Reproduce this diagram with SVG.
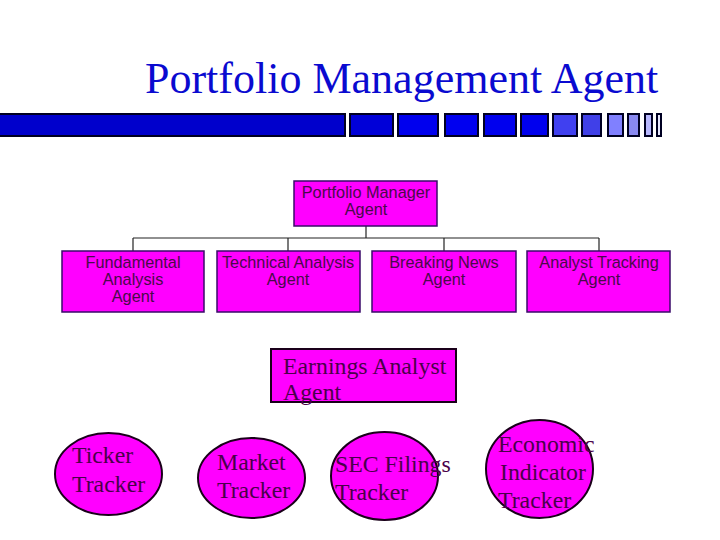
<svg xmlns="http://www.w3.org/2000/svg" width="720" height="540" viewBox="0 0 720 540">
<style>
.title{font-family:"Liberation Serif","Times New Roman",serif;font-size:44px;fill:#0a0ad0}
.bar{stroke:#000022;stroke-width:2}
.box{fill:#ff00ff;stroke:#3a0a6a;stroke-width:1.5}
.btxt{font-family:"Liberation Sans",Arial,sans-serif;font-size:16.3px;fill:#4a0a4a;text-anchor:middle}
.conn{stroke:#222;stroke-width:1.2;fill:none}
.node{fill:#ff00ff;stroke:#1a001a;stroke-width:2}
.ntxt{font-family:"Liberation Serif","Times New Roman",serif;font-size:23.8px;fill:#4a004a}
</style>
<rect width="720" height="540" fill="#fff"/>
<text class="title" x="145" y="93">Portfolio Management Agent</text>
<g id="bar">
<rect class="bar" x="-2" y="114" width="347" height="22" fill="#0000cc"/>
<rect class="bar" x="350" y="114" width="43" height="22" fill="#0000d8"/>
<rect class="bar" x="398" y="114" width="40" height="22" fill="#0000ee"/>
<rect class="bar" x="445" y="114" width="33" height="22" fill="#0000f0"/>
<rect class="bar" x="484" y="114" width="32" height="22" fill="#0000ee"/>
<rect class="bar" x="521" y="114" width="27" height="22" fill="#0000ee"/>
<rect class="bar" x="553" y="114" width="24" height="22" fill="#4040f0"/>
<rect class="bar" x="582" y="114" width="19" height="22" fill="#4040e8"/>
<rect class="bar" x="608" y="114" width="15" height="22" fill="#8080ff"/>
<rect class="bar" x="628" y="114" width="11" height="22" fill="#8888f0"/>
<rect class="bar" x="645" y="114" width="7" height="22" fill="#b8b8ff"/>
<rect class="bar" x="657" y="114" width="4" height="22" fill="#e8e8ff"/>
</g>
<g id="connectors">
<line class="conn" x1="366" y1="226" x2="366" y2="238"/>
<line class="conn" x1="133" y1="238" x2="599" y2="238"/>
<line class="conn" x1="133" y1="238" x2="133" y2="251"/>
<line class="conn" x1="288" y1="238" x2="288" y2="251"/>
<line class="conn" x1="444" y1="238" x2="444" y2="251"/>
<line class="conn" x1="599" y1="238" x2="599" y2="251"/>
</g>
<g id="portfolio-manager">
<rect class="box" x="294" y="181" width="143" height="45"/>
<text class="btxt" x="366" y="198">Portfolio Manager</text>
<text class="btxt" x="366" y="215">Agent</text>
</g>
<g id="fundamental">
<rect class="box" x="62" y="251" width="142" height="61"/>
<text class="btxt" x="133" y="268">Fundamental</text>
<text class="btxt" x="133" y="285">Analysis</text>
<text class="btxt" x="133" y="302">Agent</text>
</g>
<g id="technical">
<rect class="box" x="217" y="251" width="143" height="61"/>
<text class="btxt" x="288" y="268">Technical Analysis</text>
<text class="btxt" x="288" y="285">Agent</text>
</g>
<g id="breaking-news">
<rect class="box" x="372" y="251" width="144" height="61"/>
<text class="btxt" x="444" y="268">Breaking News</text>
<text class="btxt" x="444" y="285">Agent</text>
</g>
<g id="analyst-tracking">
<rect class="box" x="527" y="251" width="143" height="61"/>
<text class="btxt" x="599" y="268">Analyst Tracking</text>
<text class="btxt" x="599" y="285">Agent</text>
</g>
<g id="earnings">
<rect class="node" x="271" y="349" width="185" height="53"/>
<text class="ntxt" x="283" y="374">Earnings Analyst</text>
<text class="ntxt" x="283" y="400">Agent</text>
</g>
<g id="ticker">
<ellipse class="node" cx="108.5" cy="474" rx="53.5" ry="41"/>
<text class="ntxt" x="72" y="463">Ticker</text>
<text class="ntxt" x="72" y="492">Tracker</text>
</g>
<g id="market">
<ellipse class="node" cx="251.5" cy="478" rx="53.5" ry="40"/>
<text class="ntxt" x="217" y="470">Market</text>
<text class="ntxt" x="217" y="498">Tracker</text>
</g>
<g id="sec">
<ellipse class="node" cx="384.5" cy="476" rx="53.5" ry="44"/>
<text class="ntxt" x="335" y="472">SEC Filings</text>
<text class="ntxt" x="335" y="500">Tracker</text>
</g>
<g id="economic">
<ellipse class="node" cx="539.5" cy="469" rx="53.5" ry="49"/>
<text class="ntxt" x="498" y="452">Economic</text>
<text class="ntxt" x="500" y="480">Indicator</text>
<text class="ntxt" x="498" y="508">Tracker</text>
</g>
</svg>
